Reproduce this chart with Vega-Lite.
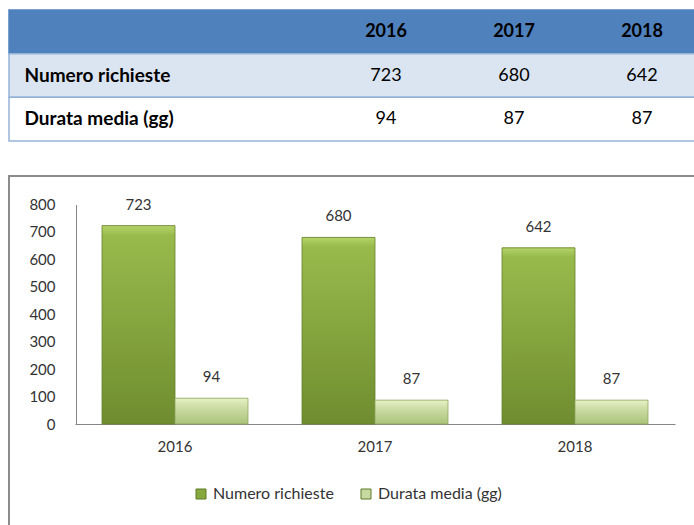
{
  "$schema": "https://vega.github.io/schema/vega-lite/v6.json",
  "padding": {"left": 8, "top": 9, "right": 0, "bottom": 0},
  "spacing": 33,
  "background": "white",
  "config": {"font": "Lato", "axis": {"labelFont": "Lato"}, "legend": {"labelFont": "Lato"}},
  "datasets": {
    "righe": [
      {"riga": "header"},
      {"riga": "Numero richieste"},
      {"riga": "Durata media (gg)"}
    ],
    "celle": [
      {"riga": "header", "anno": "2016", "testo": "2016"},
      {"riga": "header", "anno": "2017", "testo": "2017"},
      {"riga": "header", "anno": "2018", "testo": "2018"},
      {"riga": "Numero richieste", "anno": "2016", "testo": "723"},
      {"riga": "Numero richieste", "anno": "2017", "testo": "680"},
      {"riga": "Numero richieste", "anno": "2018", "testo": "642"},
      {"riga": "Durata media (gg)", "anno": "2016", "testo": "94"},
      {"riga": "Durata media (gg)", "anno": "2017", "testo": "87"},
      {"riga": "Durata media (gg)", "anno": "2018", "testo": "87"}
    ],
    "barre": [
      {"anno": "2016", "serie": "Numero richieste", "valore": 723},
      {"anno": "2016", "serie": "Durata media (gg)", "valore": 94},
      {"anno": "2017", "serie": "Numero richieste", "valore": 680},
      {"anno": "2017", "serie": "Durata media (gg)", "valore": 87},
      {"anno": "2018", "serie": "Numero richieste", "valore": 642},
      {"anno": "2018", "serie": "Durata media (gg)", "valore": 87}
    ]
  },
  "vconcat": [
    {
      "width": 720,
      "height": 131,
      "view": {"stroke": null},
      "layer": [
        {
          "data": {"name": "righe"},
          "mark": {"type": "rect", "strokeWidth": 1.5},
          "encoding": {
            "y": {
              "field": "riga", "type": "nominal",
              "scale": {"domain": ["header", "Numero richieste", "Durata media (gg)"], "paddingInner": 0, "paddingOuter": 0},
              "axis": {"title": null, "domain": false, "ticks": false, "labelAlign": "left", "labelPadding": -15, "labelFontSize": 19, "labelFontWeight": "bold", "labelColor": "#000000", "labelBaseline": "middle", "labelExpr": "datum.value === 'header' ? '' : datum.value", "labelLimit": 400}
            },
            "fill": {
              "condition": [
                {"test": "datum.riga === 'header'", "value": "#4F81BD"},
                {"test": "datum.riga === 'Numero richieste'", "value": "#DBE5F1"}
              ],
              "value": "#FFFFFF"
            },
            "stroke": {"condition": {"test": "datum.riga === 'header'", "value": "#4F81BD"}, "value": "#95B3D7"}
          }
        },
        {
          "data": {"name": "celle"},
          "transform": [{"filter": "datum.riga === 'header'"}],
          "mark": {"type": "text", "fontSize": 18, "fontWeight": "bold", "color": "#000000"},
          "encoding": {
            "x": {"field": "anno", "type": "nominal", "scale": {"range": [313, 697], "paddingInner": 0, "paddingOuter": 0}, "axis": null},
            "y": {"field": "riga", "type": "nominal"},
            "text": {"field": "testo"}
          }
        },
        {
          "data": {"name": "celle"},
          "transform": [{"filter": "datum.riga !== 'header'"}],
          "mark": {"type": "text", "fontSize": 18, "color": "#000000"},
          "encoding": {
            "x": {"field": "anno", "type": "nominal", "axis": null},
            "y": {"field": "riga", "type": "nominal"},
            "text": {"field": "testo"}
          }
        }
      ]
    },
    {
      "width": 720,
      "height": 380,
      "view": {"stroke": "#8C8C8C", "strokeWidth": 2},
      "data": {"name": "barre"},
      "encoding": {
        "x": {
          "field": "anno", "type": "nominal",
          "scale": {"range": [66, 666], "paddingInner": 0.27, "paddingOuter": 0.135},
          "axis": {"title": null, "orient": "bottom", "offset": -132, "domainColor": "#868686", "domainWidth": 1, "ticks": false, "labelAngle": 0, "labelFontSize": 15, "labelColor": "#333333", "labelPadding": 15}
        },
        "xOffset": {
          "field": "serie", "type": "nominal",
          "scale": {"domain": ["Numero richieste", "Durata media (gg)"], "paddingInner": 0, "paddingOuter": 0}
        },
        "y": {
          "field": "valore", "type": "quantitative",
          "scale": {"domain": [0, 800], "range": [248, 28.5], "nice": false},
          "axis": {"title": null, "offset": -67, "values": [0, 100, 200, 300, 400, 500, 600, 700, 800], "grid": false, "ticks": false, "domainColor": "#868686", "labelFontSize": 15, "labelPadding": 21, "labelColor": "#333333"}
        }
      },
      "layer": [
        {
          "mark": {"type": "bar"},
          "encoding": {
            "color": {
              "field": "serie", "type": "nominal",
              "scale": {"domain": ["Numero richieste", "Durata media (gg)"], "range": ["#86A83E", "#C6D9A0"]},
              "legend": {"title": null, "orient": "none", "legendX": 184, "legendY": 476, "direction": "horizontal", "symbolType": "square", "symbolSize": 100, "labelFontSize": 16, "columnPadding": 24, "symbolStrokeColor": "#5F7A27", "symbolStrokeWidth": 1, "labelColor": "#333333", "padding": 0}
            }
          }
        },
        {
          "mark": {"type": "bar", "strokeWidth": 0.8},
          "encoding": {
            "fill": {
              "condition": {
                "test": "datum.serie === 'Numero richieste'",
                "value": {"gradient": "linear", "x1": 0, "y1": 0, "x2": 0, "y2": 1, "stops": [{"offset": 0, "color": "#B5D46A"}, {"offset": 0.05, "color": "#98BA4C"}, {"offset": 1, "color": "#6F8D2F"}]}
              },
              "value": {"gradient": "linear", "x1": 0, "y1": 0, "x2": 0, "y2": 1, "stops": [{"offset": 0, "color": "#E6F2C6"}, {"offset": 0.3, "color": "#CFE0A9"}, {"offset": 1, "color": "#A9C37A"}]}
            },
            "stroke": {"condition": {"test": "datum.serie === 'Numero richieste'", "value": "#66802A"}, "value": "#8FA760"}
          }
        },
        {
          "mark": {"type": "text", "dy": -21, "baseline": "middle", "fontSize": 15, "color": "#333333"},
          "encoding": {"text": {"field": "valore", "type": "quantitative"}}
        }
      ]
    }
  ]
}
